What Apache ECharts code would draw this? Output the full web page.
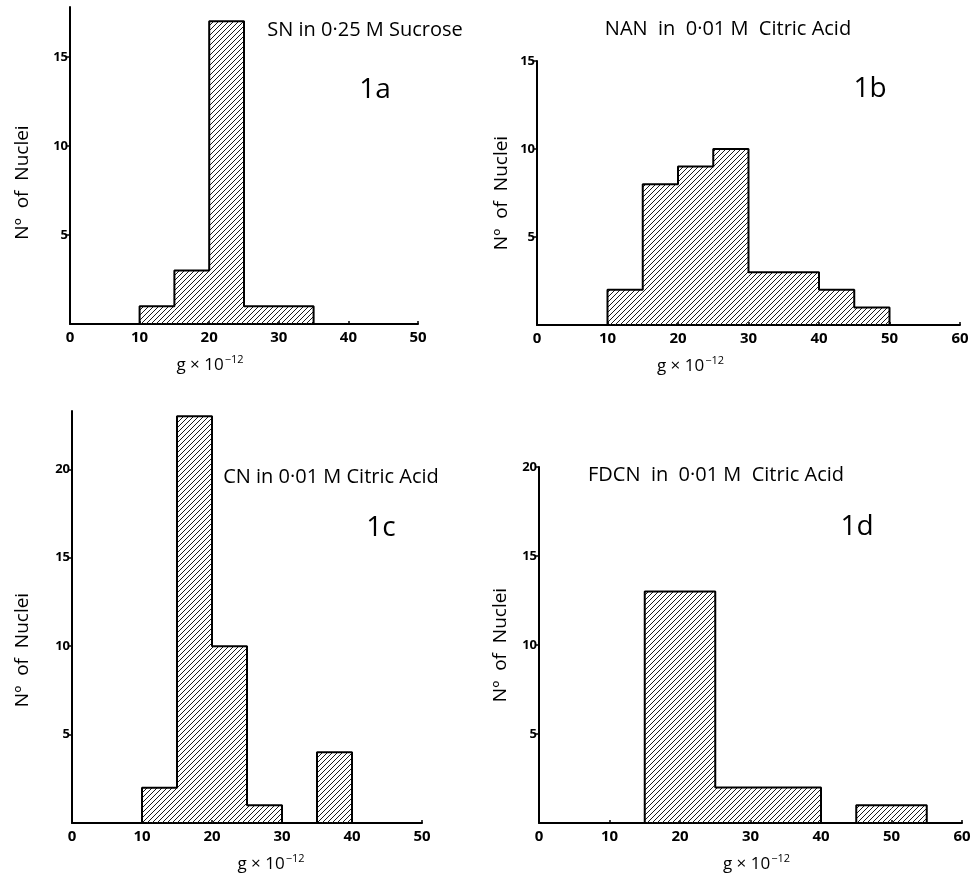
<!DOCTYPE html>
<html><head><meta charset="utf-8">
<script src="https://cdn.jsdelivr.net/npm/echarts@6/dist/echarts.min.js"></script>
<style>html,body{margin:0;padding:0;background:#fff}#c{width:974px;height:874px}</style>
</head><body><div id="c"></div>
<script>
// ---- data ----
const binWidth = 5;
const aStarts = [10, 15, 20, 25, 30];
const aCounts = [1, 3, 17, 1, 1];
const bStarts = [10, 15, 20, 25, 30, 35, 40, 45];
const bCounts = [2, 8, 9, 10, 3, 3, 2, 1];
const cStarts = [10, 15, 20, 25, 35];
const cCounts = [2, 23, 10, 1, 4];
const dStarts = [15, 20, 25, 30, 35, 45, 50];
const dCounts = [13, 13, 2, 2, 2, 1, 1];
const xTicksA = [0, 10, 20, 30, 40, 50];
const xTicksB = [0, 10, 20, 30, 40, 50, 60];
const xTicksC = [0, 10, 20, 30, 40, 50];
const xTicksD = [0, 10, 20, 30, 40, 50, 60];
const yTicksA = [5, 10, 15];
const yTicksB = [5, 10, 15];
const yTicksC = [5, 10, 15, 20];
const yTicksD = [5, 10, 15, 20];
const titles = ['SN in 0·25 M Sucrose', 'NAN  in  0·01 M  Citric Acid', 'CN in 0·01 M Citric Acid', 'FDCN  in  0·01 M  Citric Acid'];
const panelLabels = ['1a', '1b', '1c', '1d'];

const FONT = 'Open Sans';
// hatch pattern
const pc = document.createElement('canvas');
pc.width = 5; pc.height = 5;
const g = pc.getContext('2d');
g.strokeStyle = '#1a1a1a'; g.lineWidth = 1;
g.beginPath();
g.moveTo(0, 5); g.lineTo(5, 0);
g.moveTo(-1, 1); g.lineTo(1, -1);
g.moveTo(4, 6); g.lineTo(6, 4);
g.stroke();
const hatch = { image: pc, repeat: 'repeat' };

function outline(starts, counts, w) {
  const pts = [];
  for (let i = 0; i < starts.length; i++) {
    const s = starts[i], e = s + w;
    const prevEnd = i > 0 ? starts[i - 1] + w : null;
    if (prevEnd !== s) {
      if (i > 0) pts.push([prevEnd, 0]);
      pts.push([s, 0]);
    }
    pts.push([s, counts[i]]);
    pts.push([e, counts[i]]);
  }
  pts.push([starts[starts.length - 1] + w, 0]);
  return pts;
}

const grids = [
  { left: 70, top: 7, width: 348, height: 317 },
  { left: 537, top: 61, width: 423, height: 264 },
  { left: 72, top: 411, width: 350, height: 412 },
  { left: 539, top: 467, width: 423, height: 356 }
];
const yMax = [17.8, 15, 23.3, 20];
const xT = [xTicksA, xTicksB, xTicksC, xTicksD];
const yT = [yTicksA, yTicksB, yTicksC, yTicksD];
const xNamePad = [[0, 68, 0, 0], [0, 116, 0, 0], [0, 0, 0, 48], [0, 0, 0, 12]];
const yNamePad = [[0, 34, 0, 0], [0, 0, 0, 0], [0, 66, 0, 0], [0, 0, 0, 0]];
const yNameGap = [38, 26, 40, 29];
const starts = [aStarts, bStarts, cStarts, dStarts];
const counts = [aCounts, bCounts, cCounts, dCounts];

const xAxis = [], yAxis = [], series = [];
for (let k = 0; k < 4; k++) {
  const xt = xT[k], yt = yT[k];
  xAxis.push({
    gridIndex: k, type: 'value', min: xt[0], max: xt[xt.length - 1], interval: xt[1] - xt[0],
    splitLine: { show: false },
    axisLine: { lineStyle: { color: '#000', width: 2 } },
    axisTick: { show: true, inside: true, length: 3, lineStyle: { color: '#000', width: 1.5 } },
    axisLabel: { color: '#000', fontFamily: FONT, fontSize: 15, fontWeight: 'bold', margin: 6 },
    name: '{g|g × 10}{s|−12}', nameLocation: 'middle', nameGap: 30,
    nameTextStyle: {
      padding: xNamePad[k],
      rich: {
        g: { fontFamily: FONT, fontSize: 17, color: '#000', verticalAlign: 'bottom' },
        s: { fontFamily: FONT, fontSize: 11, color: '#000', verticalAlign: 'top', padding: [0, 0, 9, 1] }
      }
    }
  });
  yAxis.push({
    gridIndex: k, type: 'value', min: 0, max: yMax[k], interval: 5,
    splitLine: { show: false },
    axisLine: { lineStyle: { color: '#000', width: 2 } },
    axisTick: { show: true, length: 4, lineStyle: { color: '#000', width: 1.5 } },
    axisLabel: {
      color: '#000', fontFamily: FONT, fontSize: 13, fontWeight: 'bold', margin: 2,
      showMinLabel: false, showMaxLabel: yt[yt.length - 1] === yMax[k],
      formatter: v => (yt.indexOf(v) >= 0 ? String(v) : '')
    },
    name: 'Nº  of  Nuclei', nameLocation: 'middle', nameGap: yNameGap[k],
    nameTextStyle: { fontFamily: FONT, fontSize: 19, color: '#000', padding: yNamePad[k] }
  });
  series.push({
    type: 'custom', xAxisIndex: k, yAxisIndex: k,
    data: starts[k].map((s, i) => [s, s + binWidth, counts[k][i]]),
    encode: { x: [0, 1], y: 2 },
    renderItem: function (params, api) {
      const p0 = api.coord([api.value(0), api.value(2)]);
      const p1 = api.coord([api.value(1), 0]);
      return { type: 'rect', shape: { x: p0[0], y: p0[1], width: p1[0] - p0[0], height: p1[1] - p0[1] }, style: { fill: hatch } };
    },
    silent: true, animation: false
  });
  series.push({
    type: 'line', xAxisIndex: k, yAxisIndex: k,
    data: outline(starts[k], counts[k], binWidth),
    symbol: 'none', lineStyle: { color: '#000', width: 2 }, silent: true, animation: false, z: 5
  });
}

const titlePos = [[365, 30], [728, 29], [331, 477], [716, 475]];
const labelPos = [[375, 90], [870, 89], [381, 528], [857, 527]];
const graphic = [];
for (let k = 0; k < 4; k++) {
  graphic.push({ type: 'text', x: titlePos[k][0], y: titlePos[k][1],
    style: { text: titles[k], font: '20px "' + FONT + '"', fill: '#000', textAlign: 'center', textVerticalAlign: 'middle' } });
  graphic.push({ type: 'text', x: labelPos[k][0], y: labelPos[k][1],
    style: { text: panelLabels[k], font: '28px "' + FONT + '"', fill: '#000', textAlign: 'center', textVerticalAlign: 'middle' } });
}

const chart = echarts.init(document.getElementById('c'), null, { renderer: 'canvas' });
chart.setOption({ animation: false, backgroundColor: '#fff', grid: grids, xAxis, yAxis, series, graphic });
</script></body></html>
